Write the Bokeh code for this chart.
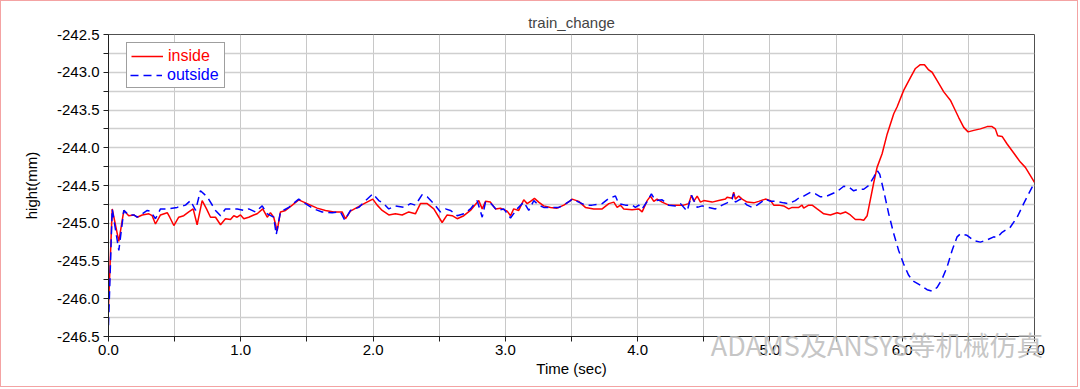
from bokeh.plotting import figure
from bokeh.models import (Range1d, FixedTicker, NumeralTickFormatter, Legend, LegendItem, Title)
from bokeh.embed import file_html
from bokeh.resources import INLINE

# ---------------- data ----------------
inside_t = [0.0, 0.028, 0.078, 0.116, 0.153, 0.191, 0.217, 0.255, 0.305, 0.330,
            0.355, 0.393, 0.444, 0.463, 0.494, 0.531, 0.569, 0.607, 0.640, 0.670,
            0.708, 0.741, 0.771, 0.809, 0.847, 0.884, 0.922, 0.947, 0.973, 0.998,
            1.023, 1.060, 1.098, 1.124, 1.166, 1.200, 1.224, 1.249, 1.275, 1.300,
            1.338, 1.389, 1.438, 1.476, 1.527, 1.577, 1.640, 1.703, 1.766, 1.791,
            1.829, 1.880, 1.943, 1.998, 2.031, 2.069, 2.119, 2.169, 2.220, 2.270,
            2.320, 2.358, 2.409, 2.459, 2.522, 2.560, 2.598, 2.636, 2.686, 2.736,
            2.799, 2.825, 2.850, 2.887, 2.925, 2.963, 3.014, 3.039, 3.063, 3.101,
            3.139, 3.165, 3.190, 3.220, 3.252, 3.290, 3.341, 3.391, 3.442, 3.492,
            3.505, 3.555, 3.605, 3.668, 3.732, 3.782, 3.820, 3.845, 3.870, 3.895,
            3.958, 4.008, 4.034, 4.072, 4.097, 4.122, 4.147, 4.185, 4.235, 4.286,
            4.348, 4.386, 4.407, 4.424, 4.450, 4.475, 4.500, 4.563, 4.613, 4.664,
            4.676, 4.714, 4.726, 4.739, 4.764, 4.790, 4.828, 4.878, 4.915, 4.966,
            5.004, 5.029, 5.066, 5.104, 5.142, 5.168, 5.218, 5.243, 5.255, 5.293,
            5.319, 5.357, 5.407, 5.457, 5.508, 5.533, 5.571, 5.608, 5.646, 5.684,
            5.709, 5.735, 5.760, 5.785, 5.810,
            5.848, 5.886, 5.936, 5.961, 6.011, 6.062, 6.100, 6.137, 6.168, 6.200,
            6.226, 6.264, 6.314, 6.364, 6.389, 6.427, 6.465, 6.498, 6.541, 6.591,
            6.642, 6.679, 6.704, 6.722, 6.755, 6.793, 6.843, 6.893, 6.931, 6.969,
            7.0]
inside_v = [-246.10, -244.81, -245.24, -244.83, -244.90, -244.89, -244.92, -244.89, -244.875, -244.90,
            -245.01, -244.89, -244.86, -244.92, -245.03, -244.92, -244.90, -244.85, -244.81, -245.02,
            -244.70, -244.81, -244.92, -244.92, -245.02, -244.94, -244.95, -244.90, -244.92, -244.89,
            -244.94, -244.92, -244.89, -244.875, -244.81, -244.92, -244.86, -244.92, -245.10, -244.85,
            -244.83, -244.76, -244.69, -244.72, -244.76, -244.80, -244.83, -244.85, -244.85, -244.94,
            -244.84, -244.79, -244.73, -244.68, -244.76, -244.83, -244.89, -244.875, -244.89, -244.85,
            -244.875, -244.74, -244.74, -244.81, -244.99, -244.89, -244.90, -244.94, -244.90, -244.83,
            -244.70, -244.81, -244.71, -244.72, -244.81, -244.80, -244.84, -244.90, -244.81, -244.83,
            -244.69, -244.74, -244.71, -244.67, -244.72, -244.77, -244.79, -244.80, -244.76, -244.70,
            -244.68, -244.71, -244.79, -244.81, -244.81, -244.74, -244.72, -244.79, -244.76, -244.81,
            -244.82, -244.81, -244.85, -244.70, -244.64, -244.71, -244.68, -244.72, -244.76, -244.76,
            -244.76, -244.74, -244.63, -244.71, -244.64, -244.72, -244.70, -244.72, -244.70, -244.68,
            -244.655, -244.67, -244.59, -244.68, -244.64, -244.68, -244.72, -244.73, -244.71, -244.68,
            -244.70, -244.76, -244.76, -244.77, -244.81, -244.79, -244.79, -244.76, -244.80, -244.76,
            -244.76, -244.81, -244.875, -244.89, -244.86, -244.875, -244.85, -244.89, -244.95, -244.95,
            -244.96, -244.90, -244.68, -244.46, -244.26,
            -244.08, -243.82, -243.55, -243.46, -243.24, -243.07, -242.95, -242.90, -242.90, -242.97,
            -243.00, -243.11, -243.26, -243.37, -243.46, -243.60, -243.73, -243.79, -243.77, -243.75,
            -243.72, -243.72, -243.75, -243.84, -243.85, -243.95, -244.07, -244.19, -244.26, -244.37,
            -244.46]

outside_t = [0.0, 0.028, 0.078, 0.116, 0.153, 0.191, 0.217, 0.255, 0.293, 0.317,
             0.355, 0.393, 0.444, 0.519, 0.582, 0.620, 0.658, 0.695, 0.746, 0.809,
             0.847, 0.884, 0.922, 0.973, 1.023, 1.060, 1.111, 1.136, 1.162, 1.200,
             1.249, 1.268, 1.300, 1.363, 1.438, 1.489, 1.552, 1.615, 1.691, 1.754,
             1.786, 1.829, 1.892, 1.943, 1.998, 2.043, 2.081, 2.119, 2.169, 2.232,
             2.283, 2.320, 2.371, 2.409, 2.459, 2.509, 2.547, 2.585, 2.636, 2.686,
             2.736, 2.787, 2.825, 2.850, 2.887, 2.938, 2.988, 3.039, 3.089, 3.139,
             3.177, 3.215, 3.252, 3.290, 3.341, 3.404, 3.442, 3.492, 3.505, 3.555,
             3.605, 3.656, 3.732, 3.782, 3.832, 3.857, 3.908, 3.958, 3.983, 4.008,
             4.034, 4.072, 4.104, 4.134, 4.185, 4.235, 4.286, 4.324, 4.374, 4.407,
             4.450, 4.488, 4.537, 4.588, 4.639, 4.676, 4.714, 4.726, 4.739, 4.777,
             4.828, 4.866, 4.903, 4.966, 5.004, 5.054, 5.104, 5.142, 5.192, 5.230,
             5.255, 5.306, 5.344, 5.382, 5.419, 5.470, 5.508, 5.558, 5.596, 5.633,
             5.671, 5.709, 5.747, 5.785, 5.810, 5.830, 5.860, 5.898, 5.936, 5.973,
             6.011, 6.049, 6.087, 6.137, 6.188, 6.226, 6.264, 6.301, 6.339, 6.377,
             6.415, 6.440, 6.490, 6.541, 6.591, 6.642, 6.692, 6.717, 6.755, 6.818,
             6.869, 6.918, 6.956, 7.0]
outside_v = [-246.35, -244.81, -245.36, -244.83, -244.89, -244.89, -244.92, -244.875, -244.83, -244.84,
             -244.94, -244.81, -244.81, -244.79, -244.76, -244.70, -244.83, -244.57, -244.65, -244.83,
             -244.90, -244.81, -244.81, -244.81, -244.83, -244.81, -244.85, -244.81, -244.77, -244.875,
             -244.92, -245.15, -244.85, -244.79, -244.68, -244.74, -244.81, -244.85, -244.86, -244.85,
             -244.96, -244.83, -244.79, -244.70, -244.61, -244.70, -244.74, -244.81, -244.77, -244.79,
             -244.74, -244.76, -244.62, -244.65, -244.74, -244.85, -244.81, -244.83, -244.90, -244.875,
             -244.81, -244.70, -244.92, -244.72, -244.73, -244.83, -244.81, -244.93, -244.81, -244.72,
             -244.83, -244.70, -244.76, -244.79, -244.79, -244.79, -244.76, -244.70, -244.68, -244.72,
             -244.76, -244.76, -244.74, -244.67, -244.64, -244.74, -244.76, -244.76, -244.79, -244.76,
             -244.81, -244.71, -244.61, -244.70, -244.69, -244.76, -244.77, -244.74, -244.84, -244.63,
             -244.79, -244.77, -244.79, -244.81, -244.76, -244.73, -244.68, -244.61, -244.72, -244.68,
             -244.76, -244.79, -244.76, -244.68, -244.71, -244.71, -244.73, -244.74, -244.70, -244.65,
             -244.64, -244.59, -244.61, -244.65, -244.65, -244.61, -244.58, -244.51, -244.52, -244.57,
             -244.55, -244.55, -244.50, -244.39, -244.30, -244.35, -244.57, -244.875, -245.14, -245.36,
             -245.54, -245.69, -245.77, -245.82, -245.88, -245.90, -245.85, -245.74, -245.58, -245.36,
             -245.18, -245.14, -245.16, -245.23, -245.25, -245.22, -245.18, -245.19, -245.12, -245.05,
             -244.92, -244.74, -244.61, -244.46]

x_major = [0, 1, 2, 3, 4, 5, 6, 7]
x_minor = [0.5, 1.5, 2.5, 3.5, 4.5, 5.5, 6.5]
y_major = [-246.5, -246.0, -245.5, -245.0, -244.5, -244.0, -243.5, -243.0, -242.5]
y_minor = [-246.25, -245.75, -245.25, -244.75, -244.25, -243.75, -243.25, -242.75]

title_text = "train_change"
x_label = "Time (sec)"
y_label = "hight(mm)"
series_names = ["inside", "outside"]
watermark = "ADAMS及ANSYS等机械仿真"

FONT = "Liberation Sans"

p = figure(width=1078, height=387, x_range=Range1d(0, 7), y_range=Range1d(-246.5, -242.5),
           output_backend="svg", toolbar_location=None, title=title_text,
           min_border_left=107, min_border_right=45, min_border_top=33, min_border_bottom=52)

p.title.align = "center"
p.title.text_font = FONT
p.title.text_font_size = "15px"
p.title.text_font_style = "normal"
p.title.standoff = 8
p.title.offset = 0

p.outline_line_color = "#505050"
p.outline_line_width = 1

# axes
p.xaxis.ticker = FixedTicker(ticks=x_major, minor_ticks=x_minor)
p.yaxis.ticker = FixedTicker(ticks=y_major, minor_ticks=y_minor)
p.xaxis.formatter = NumeralTickFormatter(format="0.0")
p.yaxis.formatter = NumeralTickFormatter(format="0.0")
p.xaxis.axis_label = x_label
p.yaxis.axis_label = y_label
for ax in (p.xaxis, p.yaxis):
    ax.axis_line_color = "#202020"
    ax.major_tick_line_color = "#202020"
    ax.minor_tick_line_color = "#202020"
    ax.major_tick_in = 0
    ax.major_tick_out = 5
    ax.minor_tick_in = 0
    ax.minor_tick_out = 5
    ax.major_label_text_font = FONT
    ax.major_label_text_font_size = "15px"
    ax.major_label_text_color = "#000000"
    ax.axis_label_text_font = FONT
    ax.axis_label_text_font_size = "15px"
    ax.axis_label_text_font_style = "normal"
    ax.axis_label_text_color = "#000000"
p.xaxis.major_label_standoff = 3
p.xaxis.axis_label_standoff = 2
p.yaxis.major_label_standoff = 4
p.yaxis.axis_label_standoff = 14

# grids
p.xgrid.ticker = FixedTicker(ticks=sorted(x_major + x_minor))
p.ygrid.ticker = FixedTicker(ticks=sorted(y_major + y_minor))
p.xgrid.grid_line_color = "#c8c8c8"
p.ygrid.grid_line_color = "#cfcfcf"
p.xgrid.grid_line_width = 1
p.ygrid.grid_line_width = 1.5

r_in = p.line(inside_t, inside_v, line_color="#ff0000", line_width=1.5)
r_out = p.line(outside_t, outside_v, line_color="#0000ff", line_width=1.5, line_dash="8 5")

LEG = dict(glyph_width=32, glyph_height=16, label_height=16, label_standoff=5,
           label_text_font=FONT, label_text_font_size="16px")
leg1 = Legend(items=[LegendItem(label=series_names[0], renderers=[r_in]),
                     LegendItem(label=series_names[1], renderers=[r_out])],
              location=(18, 248), padding=4, spacing=0, margin=0,
              border_line_color="#404040", border_line_width=1,
              background_fill_color="white", background_fill_alpha=1.0,
              label_text_color="#ff0000", **LEG)
leg2 = Legend(items=[LegendItem(label=series_names[1], renderers=[r_out])],
              location=(22, 252), padding=0, spacing=0, margin=0,
              border_line_alpha=0, background_fill_color="white", background_fill_alpha=1.0,
              label_text_color="#0000ff", **LEG)
p.add_layout(leg1, "center")
p.add_layout(leg2, "center")

# watermark as an extra title in the bottom panel, pulled up over the axis
wm = Title(text=watermark, align="right", offset=-9, standoff=-110, vertical_align="top",
           text_font="Noto Sans CJK SC", text_font_size="27px", text_font_style="normal",
           text_color="#bcbcbc", text_alpha=0.85)
p.add_layout(wm, "below")

p.styles = {"border": "1px solid #f4a3a3"}

open("out.html", "w").write(file_html(p, INLINE))
